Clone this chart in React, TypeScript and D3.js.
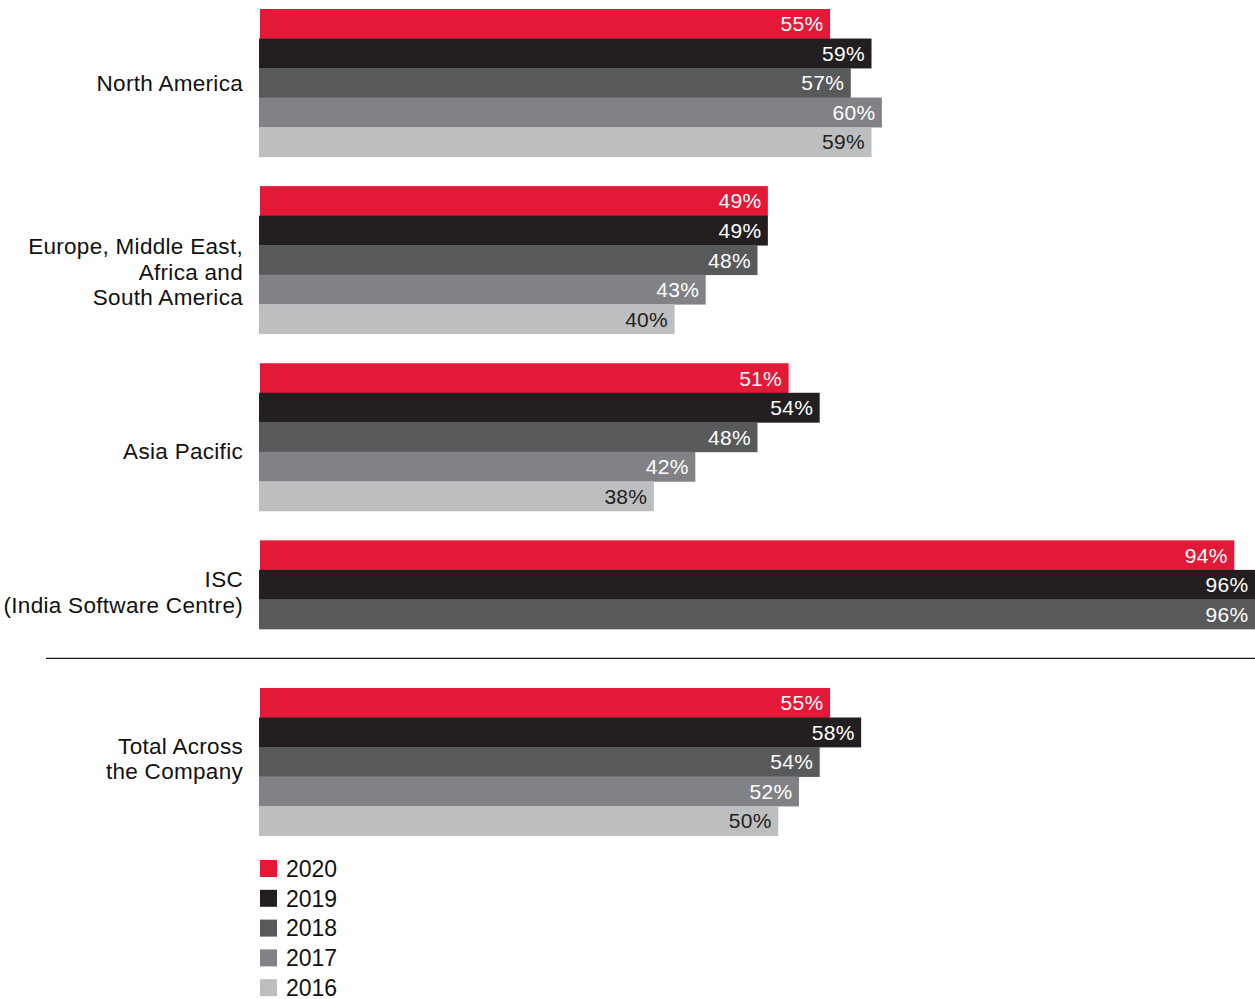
import React from "react";
import * as d3 from "d3";

const years = ["2020", "2019", "2018", "2017", "2016"];
const colors = ["#E31937", "#231F20", "#58595B", "#808285", "#BCBEC0"];
const labelColors = ["#ffffff", "#ffffff", "#ffffff", "#ffffff", "#231F20"];

const categories = [
  "North America",
  "Europe, Middle East, Africa and South America",
  "Asia Pacific",
  "ISC (India Software Centre)",
  "Total Across the Company",
];
const categoryLines = [
  ["North America"],
  ["Europe, Middle East,", "Africa and", "South America"],
  ["Asia Pacific"],
  ["ISC", "(India Software Centre)"],
  ["Total Across", "the Company"],
];

const northAmerica = [55, 59, 57, 60, 59];
const emea = [49, 49, 48, 43, 40];
const asiaPacific = [51, 54, 48, 42, 38];
const isc = [94, 96, 96];
const total = [55, 58, 54, 52, 50];
const seriesValues = [northAmerica, emea, asiaPacific, isc, total];

// layout (not data)
const labelFirstBaseline = [82, 68, 96, 47, 66];
const W = 1255;
const H = 999;
const x0 = 260;
const rowH = 29.52;
const top = 9;
const FONT = "'Liberation Sans', Arial, Helvetica, sans-serif";

export default function App() {
  const x = d3.scaleLinear().domain([0, 96]).range([x0, 1255]);
  const y = d3.scaleLinear().domain([0, 1]).range([top, top + rowH]);

  const groupStart: number[] = [];
  let slot = 0;
  seriesValues.forEach((vals, i) => {
    if (i === seriesValues.length - 1) slot += 1; // separator slot
    groupStart.push(slot);
    slot += vals.length + 1;
  });
  const sepY = y(groupStart[groupStart.length - 1] - 1);

  const legendY = d3.scaleLinear().domain([0, 1]).range([860, 889.8]);

  return (
    <svg
      width={W}
      height={H}
      style={{ position: "absolute", left: 0, top: 0, background: "#fff" }}
      fontFamily={FONT}
    >
      {seriesValues.map((vals, gi) => {
        const g0 = groupStart[gi];
        const gTop = y(g0);
        return (
          <g key={categories[gi]}>
            {vals.map((v, si) => {
              const yy = y(g0 + si);
              const bx = si === 0 ? x0 : x0 - 1;
              return (
                <g key={si}>
                  <rect
                    x={bx}
                    y={yy}
                    width={x(v) - bx}
                    height={rowH + 0.4}
                    fill={colors[si]}
                  />
                  <text
                    x={x(v) - 6.5}
                    y={yy + rowH / 2 + 7.6}
                    textAnchor="end"
                    fontSize={21}
                    letterSpacing={0.3}
                    fill={labelColors[si]}
                  >
                    {v}%
                  </text>
                </g>
              );
            })}
            {categoryLines[gi].map((line, li) => (
              <text
                key={li}
                x={243}
                y={gTop + labelFirstBaseline[gi] + li * 25.5}
                textAnchor="end"
                fontSize={22.5}
                letterSpacing={0.3}
                fill="#111"
              >
                {line}
              </text>
            ))}
          </g>
        );
      })}
      <line x1={46} x2={W} y1={sepY} y2={sepY} stroke="#231F20" strokeWidth={1.2} />
      {years.map((yr, i) => (
        <g key={yr}>
          <rect x={260} y={legendY(i)} width={17} height={17} fill={colors[i]} />
          <text x={286} y={legendY(i) + 16.8} fontSize={23} fill="#111">
            {yr}
          </text>
        </g>
      ))}
    </svg>
  );
}
